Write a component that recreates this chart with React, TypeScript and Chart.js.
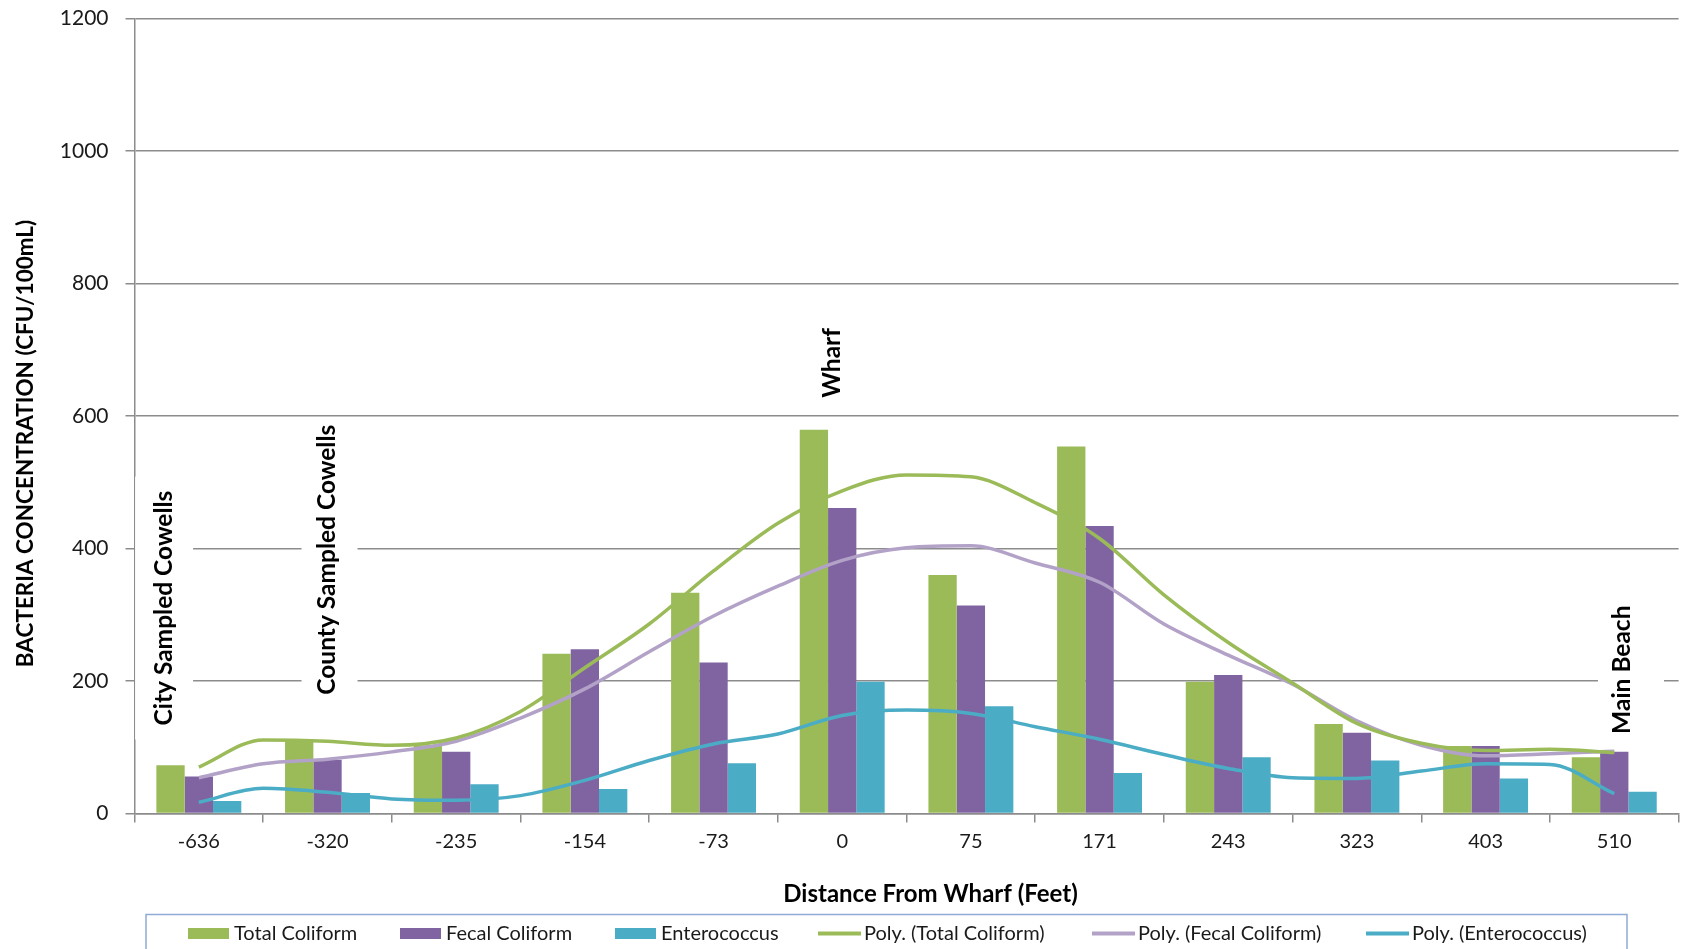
import React, { useEffect, useRef } from 'react';
import { Chart, registerables } from 'chart.js';

Chart.register(...registerables);

// ---------- data ----------
const categories = ['-636', '-320', '-235', '-154', '-73', '0', '75', '171', '243', '323', '403', '510'];
const totalColiform = [73, 112, 103, 241, 333, 579, 360, 554, 199, 135, 102, 85];
const fecalColiform = [56, 81, 93, 248, 228, 461, 314, 434, 209, 122, 102, 93];
const enterococcus = [19, 31, 44, 37, 76, 199, 162, 61, 85, 80, 53, 33];

// trend lines at every half category (from -636 to 510)
const polyTotal = [70, 111, 109, 103, 114, 154, 220, 286, 366, 438, 487, 511, 508, 469, 415, 330, 258, 197, 136, 106, 95, 97, 92];
const polyFecal = [54, 75, 82, 93, 109, 144, 188, 244, 298, 343, 382, 401, 404, 378, 349, 286, 239, 195, 140, 103, 87, 90, 94];
const polyEntero = [17, 38, 32, 22, 20, 27, 50, 80, 105, 120, 148, 156, 151, 131, 112, 89, 68, 54, 53, 64, 75, 74, 30];

// half-category slots of the trend-line axis (one empty slot at each edge)
const trendSlots = ['', '-636', '', '-320', '', '-235', '', '-154', '', '-73', '', '0', '', '75', '', '171', '', '243', '', '323', '', '403', '', '510', ''];

const yTicks = [0, 200, 400, 600, 800, 1000, 1200];

const annotations = [
  { text: 'City Sampled Cowells', idx: 0, dx: -0.27, yVal: 310, halfW: 29, boxShift: 0, padY: 14 },
  { text: 'County Sampled Cowells', idx: 1, dx: 0.0, yVal: 383, halfW: 28, boxShift: 2, padY: 7 },
  { text: 'Wharf', idx: 5, dx: -0.08, yVal: 680, halfW: 20, boxShift: -5, padY: 16 },
  { text: 'Main Beach', idx: 11, dx: 0.06, yVal: 217, halfW: 33, boxShift: 9, padY: 14 },
];

const GREEN = '#9BBB59';
const PURPLE = '#8064A2';
const TEAL = '#4BACC6';
const PURPLE_LIGHT = '#B3A2C7';
const GRID = '#8C8C8C';
const FONT = 'Lato';

const W = 1687;
const H = 949;
const PAD_LEFT = 134.5;
const PAD_TOP = 18.3;
const PAD_RIGHT = 8.4;
const PAD_BOTTOM = 135.5;

const legendItems = [
  { label: 'Total Coliform', color: GREEN, kind: 'box', x: 188 },
  { label: 'Fecal Coliform', color: PURPLE, kind: 'box', x: 400 },
  { label: 'Enterococcus', color: TEAL, kind: 'box', x: 615 },
  { label: 'Poly. (Total Coliform)', color: GREEN, kind: 'line', x: 818 },
  { label: 'Poly. (Fecal Coliform)', color: PURPLE_LIGHT, kind: 'line', x: 1092 },
  { label: 'Poly. (Enterococcus)', color: TEAL, kind: 'line', x: 1366 },
];

const annoPlugin = {
  id: 'annoPlugin',
  beforeDatasetsDraw(chart: any) {
    const { ctx } = chart;
    const x = chart.scales.x;
    const y = chart.scales.y;
    const cw = x.getPixelForValue(1) - x.getPixelForValue(0);
    ctx.save();
    ctx.font = `bold 24.5px ${FONT}`;
    for (const a of annotations) {
      const cx = x.getPixelForValue(a.idx) + a.dx * cw;
      const cy = y.getPixelForValue(a.yVal);
      const w = ctx.measureText(a.text).width;
      ctx.fillStyle = '#ffffff';
      ctx.fillRect(cx + a.boxShift - a.halfW, cy - w / 2 - a.padY, a.halfW * 2, w + a.padY * 2);
      ctx.save();
      ctx.translate(cx, cy);
      ctx.rotate(-Math.PI / 2);
      ctx.fillStyle = '#000000';
      ctx.textAlign = 'center';
      ctx.textBaseline = 'middle';
      ctx.fillText(a.text, 0, 0);
      ctx.restore();
    }
    ctx.restore();
  },
};

const framePlugin = {
  id: 'framePlugin',
  afterDraw(chart: any) {
    const { ctx, chartArea } = chart;
    ctx.save();
    // y axis title
    ctx.font = `bold 22.5px ${FONT}`;
    ctx.fillStyle = '#000000';
    ctx.textAlign = 'center';
    ctx.textBaseline = 'middle';
    ctx.save();
    ctx.translate(26, 443.5);
    ctx.rotate(-Math.PI / 2);
    ctx.fillText('BACTERIA CONCENTRATION (CFU/100mL)', 0, 0);
    ctx.restore();
    // x axis title
    ctx.font = `bold 24px ${FONT}`;
    ctx.fillText('Distance From Wharf (Feet)', (chartArea.left + chartArea.right) / 2 + 24, 894);
    // legend frame
    ctx.strokeStyle = '#8FAAD6';
    ctx.lineWidth = 1.5;
    ctx.strokeRect(146, 914.5, 1481, 80);
    // legend items
    ctx.font = `20px ${FONT}`;
    ctx.textAlign = 'left';
    for (const it of legendItems) {
      if (it.kind === 'box') {
        ctx.fillStyle = it.color;
        ctx.fillRect(it.x, 928, 41, 11);
      } else {
        ctx.strokeStyle = it.color;
        ctx.lineWidth = 4;
        ctx.beginPath();
        ctx.moveTo(it.x, 933.5);
        ctx.lineTo(it.x + 43, 933.5);
        ctx.stroke();
      }
      ctx.fillStyle = '#1a1a1a';
      ctx.fillText(it.label, it.x + 46, 933.5);
    }
    ctx.restore();
  },
};

export default function App() {
  const barRef = useRef<HTMLCanvasElement | null>(null);
  const lineRef = useRef<HTMLCanvasElement | null>(null);

  useEffect(() => {
    document.body.style.margin = '0';
    let barChart: Chart | null = null;
    let lineChart: Chart | null = null;
    let cancelled = false;
    const build = () => {
      if (cancelled || !barRef.current || !lineRef.current) return;
      const barBase = { categoryPercentage: 0.66, barPercentage: 1.0 };
      barChart = new Chart(barRef.current, {
        type: 'bar',
        data: {
          labels: categories,
          datasets: [
            { ...barBase, label: 'Total Coliform', data: totalColiform, backgroundColor: GREEN },
            { ...barBase, label: 'Fecal Coliform', data: fecalColiform, backgroundColor: PURPLE },
            { ...barBase, label: 'Enterococcus', data: enterococcus, backgroundColor: TEAL },
          ],
        },
        options: {
          responsive: false,
          animation: false,
          devicePixelRatio: 1,
          layout: { padding: { left: 0, top: PAD_TOP, right: PAD_RIGHT, bottom: 0 } },
          plugins: { legend: { display: false }, tooltip: { enabled: false }, title: { display: false } },
          scales: {
            x: {
              type: 'category',
              offset: true,
              grid: { offset: true, drawOnChartArea: false, drawTicks: true, tickLength: 9, color: GRID, lineWidth: 1.5 },
              border: { color: GRID, width: 1.5 },
              ticks: { font: { family: FONT, size: 20 }, color: '#1a1a1a', padding: 7, maxRotation: 0, autoSkip: false },
              afterFit: (s: any) => { s.height = PAD_BOTTOM; s.paddingLeft = 0; s.paddingRight = 0; },
            },
            y: {
              min: 0,
              max: 1200,
              afterBuildTicks: (s: any) => { s.ticks = yTicks.map((v) => ({ value: v })); },
              grid: { color: GRID, lineWidth: 1.5, tickLength: 9, drawTicks: true },
              border: { color: GRID, width: 1.5 },
              ticks: { font: { family: FONT, size: 21 }, color: '#1a1a1a', padding: 17, callback: (v: any) => String(v) },
              afterFit: (s: any) => { s.width = PAD_LEFT; s.paddingTop = 0; s.paddingBottom = 0; },
            },
          },
        } as any,
        plugins: [annoPlugin, framePlugin],
      });

      const pad = (vals: number[]) => [null, ...vals, null];
      const lineBase = { pointRadius: 0, cubicInterpolationMode: 'monotone', fill: false, borderWidth: 3.5 };
      lineChart = new Chart(lineRef.current, {
        type: 'line',
        data: {
          labels: trendSlots,
          datasets: [
            { ...lineBase, label: 'Poly. (Total Coliform)', data: pad(polyTotal), borderColor: GREEN },
            { ...lineBase, label: 'Poly. (Fecal Coliform)', data: pad(polyFecal), borderColor: PURPLE_LIGHT },
            { ...lineBase, label: 'Poly. (Enterococcus)', data: pad(polyEntero), borderColor: TEAL },
          ] as any,
        },
        options: {
          responsive: false,
          animation: false,
          devicePixelRatio: 1,
          layout: { padding: { left: PAD_LEFT, top: PAD_TOP, right: PAD_RIGHT, bottom: PAD_BOTTOM } },
          plugins: { legend: { display: false }, tooltip: { enabled: false }, title: { display: false } },
          scales: {
            x: { type: 'category', offset: false, display: false },
            y: { min: 0, max: 1200, display: false },
          },
        } as any,
      });
    };
    const fontsReady = (document as any).fonts
      ? Promise.all([
          (document as any).fonts.load(`20px ${FONT}`),
          (document as any).fonts.load(`bold 20px ${FONT}`),
        ]).catch(() => null)
      : Promise.resolve(null);
    fontsReady.then(build);
    return () => {
      cancelled = true;
      if (barChart) barChart.destroy();
      if (lineChart) lineChart.destroy();
    };
  }, []);

  return (
    <div style={{ width: W, height: H, position: 'relative', background: '#ffffff' }}>
      <canvas ref={barRef} width={W} height={H} style={{ display: 'block', position: 'absolute', left: 0, top: 0 }} />
      <canvas ref={lineRef} width={W} height={H} style={{ display: 'block', position: 'absolute', left: 0, top: 0 }} />
    </div>
  );
}
